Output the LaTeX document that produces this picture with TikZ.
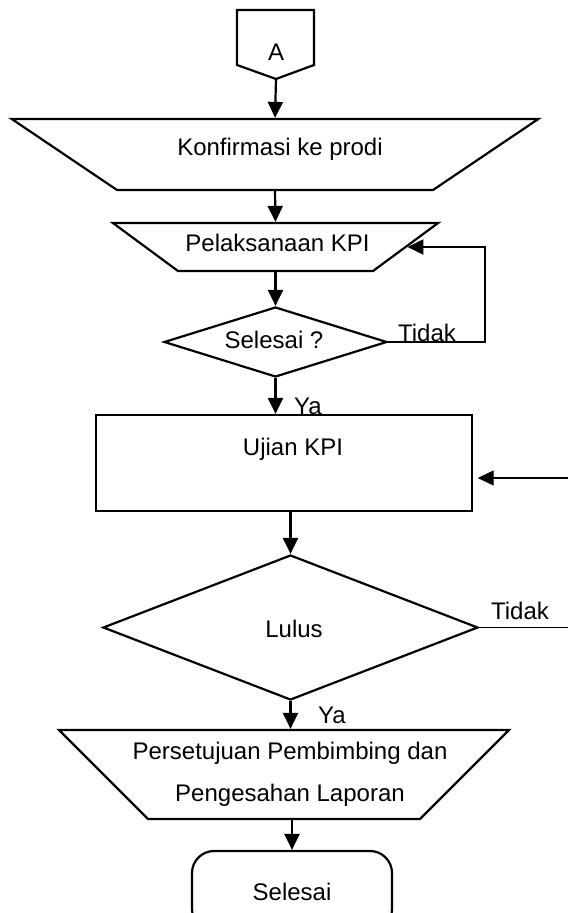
\documentclass[tikz,border=0pt]{standalone}
\usepackage{fontspec}
\setmainfont{Liberation Sans}
\usetikzlibrary{arrows.meta}
\usetikzlibrary{shapes.geometric}

\begin{document}
\begin{tikzpicture}[x=0.5pt,y=-0.5pt,line width=1.1pt,>={Triangle[length=8pt,width=7.5pt]},
	every node/.style={font=\fontsize{12}{21}\selectfont},
	manual/.style={draw,trapezium},
	decision/.style={draw,diamond,inner sep=0pt},
	process/.style={draw,rectangle,inner sep=0pt},
	terminal/.style={draw,rectangle,rounded corners=11pt,inner sep=0pt},
	stub/.style={line width=0.6pt}]
	\useasboundingbox (0,0) rectangle (568,913);
	% off-page connector
	\draw (237,10) -- (314,10) -- (314,65) -- (276,79) -- (237,65) -- cycle;
	\coordinate (aTip) at (276,79);
	\node[anchor=base] (a) at (276,61) {A};
	% shapes
	\node[manual,trapezium left angle=146,trapezium right angle=146,inner xsep=79pt,inner ysep=17.75pt] (konf) at (275,154.5) {};
	\node[manual,trapezium left angle=143.6,trapezium right angle=143.6,inner xsep=48.75pt,inner ysep=12pt] (pelak) at (275.5,247) {};
	\node[decision,aspect=3.2,minimum width=111.5pt,minimum height=35pt] (sel1) at (275.5,342) {};
	\node[process,minimum width=188pt,minimum height=48pt] (ujian) at (284,463) {};
	\node[decision,aspect=2.6,minimum width=187.5pt,minimum height=72.5pt] (lulus) at (290.5,627.5) {};
	\node[manual,trapezium left angle=135,trapezium right angle=135,inner xsep=68pt,inner ysep=22.25pt] (setuju) at (284,774.5) {};
	\node[terminal,minimum width=100pt,minimum height=40pt] (selesai) at (292,891) {};
	% texts
	\node[anchor=base] (konfT) at (280,156) {Konfirmasi ke prodi};
	\node[anchor=base] (pelakT) at (277.5,252) {Pelaksanaan KPI};
	\node[anchor=base] (sel1T) at (274,349) {Selesai ?};
	\node[anchor=base] (ujianT) at (293,455) {Ujian KPI};
	\node[anchor=base] (lulusT) at (294,637) {Lulus};
	\node[align=center] (setujuT) at (290,774.7) {Persetujuan Pembimbing dan\\Pengesahan Laporan};
	\node[anchor=base] (selesaiT) at (292,900) {Selesai};
	\node[anchor=base west,inner sep=0pt] (tidak1) at (397,342) {Tidak};
	\node[anchor=base west,inner sep=0pt] (tidak2) at (490,619) {Tidak};
	\node[anchor=base west,inner sep=0pt] (ya1) at (293,415) {Ya};
	\node[anchor=base west,inner sep=0pt] (ya2) at (317,723) {Ya};
	% connectors
	\coordinate (loop) at (485,342);
	\coordinate (back) at (568,478);
	\coordinate (gagal) at (568,627.5);
	\draw[->] (aTip) -- (konf.north);
	\draw[->] (konf.south) -- (pelak.north);
	\draw[->] (pelak.south) -- (sel1.north);
	\draw[->] (sel1.east) -- (loop) |- (pelak.east);
	\draw[->] (sel1.south) -- (sel1.south |- ujian.north);
	\draw[->,stub] (back) -- ([xshift=2.3pt]back -| ujian.east);
	\draw[->] (lulus.north |- ujian.south) -- (lulus.north);
	\draw[stub] (lulus.east) -- (gagal);
	\draw[->] (lulus.south) -- (lulus.south |- setuju.north);
	\draw[->] (setuju.south -| selesai.north) -- (selesai.north);
\end{tikzpicture}
\end{document}
